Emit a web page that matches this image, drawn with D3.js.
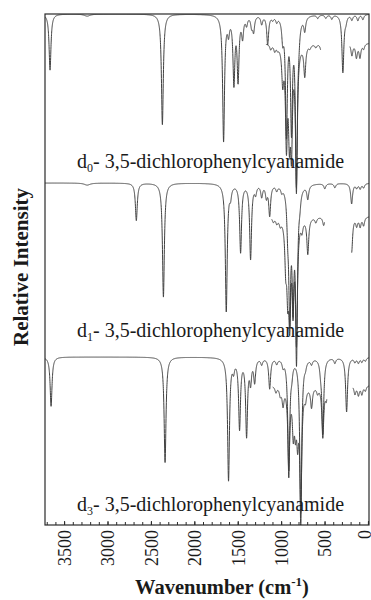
<!DOCTYPE html>
<html>
<head>
<meta charset="utf-8">
<script src="https://cdn.jsdelivr.net/npm/d3@7"></script>
<style>
  html, body { margin: 0; padding: 0; background: #fff; }
  svg { display: block; }
  text { font-family: "Liberation Serif", "DejaVu Serif", serif; fill: #1a1a1a; }
</style>
</head>
<body>
<div id="chart"></div>
<script>
// panel labels (subscript digit, rest of name)
const labelSubs = ['0', '1', '3'];
const labelRest = '- 3,5-dichlorophenylcyanamide';

// x ticks
const majorTicks = [3500, 3000, 2500, 2000, 1500, 1000, 500, 0];
const minorTicks = d3.range(0, 3701, 100);

// peaks: [wavenumber cm-1, relative intensity %, half width (optional)]
const d0Peaks = [
  [3662, 33], [3234, 1.2, 40], [2368, 65], [1663, 74], [1606, 9], [1544, 39], [1496, 37],
  [1444, 12], [1398, 5], [1340, 6], [1317, 9], [1224, 5], [1155, 17], [1097, 2], [1051, 3],
  [982, 12], [939, 68], [881, 64], [824, 100], [797, 7], [728, 8], [578, 2], [485, 2],
  [416, 2.5], [289, 34], [254, 3], [185, 3], [116, 3.5], [58, 3]
];
const d1Peaks = [
  [3234, 1.2, 40], [2668, 22], [2356, 67], [1632, 75], [1583, 6], [1467, 40], [1352, 44],
  [1294, 5], [1224, 7], [1170, 7], [1132, 18], [1051, 3], [993, 3], [924, 18], [901, 71],
  [863, 61], [823, 99], [785, 6], [693, 8], [497, 3], [381, 2.5], [188, 12], [130, 2.5],
  [90, 3], [50, 2.5]
];
const d3Peaks = [
  [3650, 29], [2337, 62], [1606, 72], [1548, 6], [1479, 41], [1398, 45], [1352, 13],
  [1305, 13.5], [1224, 3.5], [1132, 18], [1051, 3], [978, 4], [912, 69], [878, 6],
  [774, 99], [720, 3], [650, 3], [545, 5], [520, 44], [381, 3], [246, 32], [150, 2.5],
  [110, 3], [70, 2.5], [30, 2]
];

// expanded traces drawn inside each panel
const d0InsetPeaks = [
  [1120, 3], [1074, 3.5], [1040, 2], [982, 20], [939, 55], [905, 45], [881, 55], [824, 80],
  [728, 18], [668, 2], [600, 2], [540, 4], [185, 7], [133, 8], [92, 8], [50, 3]
];
const d1InsetPeaks = [
  [1090, 2.5], [1050, 3], [1010, 3.5], [947, 24], [924, 35], [901, 53], [863, 47], [823, 70],
  [760, 6], [693, 21], [600, 3], [510, 5], [188, 21], [130, 5], [90, 5.5], [50, 5]
];
const d3InsetPeaks = [
  [1060, 3.5], [1010, 4.5], [978, 10], [912, 47], [860, 24], [835, 20], [810, 26], [774, 70],
  [720, 6], [650, 12], [580, 3.5], [520, 30], [480, 7], [150, 5], [110, 5.5], [70, 5], [30, 3]
];
const insetRanges = [
  [[1175, 545], [208, -12]],
  [[1109, 500], [188, -12]],
  [[1097, 474], [173, -12]]
];
const insetOffsets = [17, 19.5, 16.5];

const mainPeaks = [d0Peaks, d1Peaks, d3Peaks];
const insetPeaks = [d0InsetPeaks, d1InsetPeaks, d3InsetPeaks];

// layout
const width = 371, height = 600;
const plotL = 45, plotR = 369, plotT = 14, plotB = 525;
const panelBase = [14, 183, 357];
const panelH = 170;

const svg = d3.select('#chart').append('svg')
  .attr('width', width)
  .attr('height', height);

const x = d3.scaleLinear().domain([3720, -12]).range([plotL, plotR]);

svg.append('defs').append('clipPath')
  .attr('id', 'plot')
  .append('rect')
  .attr('x', plotL).attr('y', plotT)
  .attr('width', plotR - plotL).attr('height', plotB - plotT);

// lorentzian broadened absorbance at wavenumber w
function absorb(peaks, w) {
  let s = 0;
  peaks.forEach(p => {
    const g = p[2] || 13;
    s += p[1] * g * g / ((w - p[0]) * (w - p[0]) + g * g);
  });
  return s;
}

const g = svg.append('g').attr('clip-path', 'url(#plot)');

mainPeaks.forEach((peaks, i) => {
  const y = d3.scaleLinear().domain([0, 100]).range([panelBase[i], panelBase[i] + panelH]);
  const line = d3.line()
    .x(d => x(d[0]))
    .y(d => y(d[1]));

  const pts = d3.range(3720, -13, -1).map(w => [w, absorb(peaks, w)]);
  g.append('path')
    .attr('d', line(pts))
    .attr('fill', 'none')
    .attr('stroke', '#404040')
    .attr('stroke-width', 1);

  // expanded part
  insetRanges[i].forEach(r => {
    const ipts = d3.range(r[0], r[1] - 1, -1).map(w => [w, insetOffsets[i] + absorb(insetPeaks[i], w)]);
    g.append('path')
      .attr('d', line(ipts))
      .attr('fill', 'none')
      .attr('stroke', '#404040')
      .attr('stroke-width', 1);
  });

  const t = svg.append('text')
    .attr('x', 77)
    .attr('y', panelBase[i] + 154)
    .attr('font-size', 20);
  t.append('tspan').text('d');
  t.append('tspan').text(labelSubs[i]).attr('font-size', 12).attr('dy', 4);
  t.append('tspan').text(labelRest).attr('dy', -4);
});

// frame
svg.append('rect')
  .attr('x', plotL).attr('y', plotT)
  .attr('width', plotR - plotL).attr('height', plotB - plotT)
  .attr('fill', 'none')
  .attr('stroke', '#2a2a2a')
  .attr('stroke-width', 1.2);

// axis ticks pointing inward
svg.append('g')
  .attr('transform', `translate(0,${plotB})`)
  .call(d3.axisBottom(x).tickValues(minorTicks).tickSize(-3).tickSizeOuter(0).tickFormat(''))
  .call(a => a.select('.domain').remove())
  .selectAll('line').attr('stroke', '#2a2a2a');

const ax = svg.append('g')
  .attr('transform', `translate(0,${plotB})`)
  .call(d3.axisBottom(x).tickValues(majorTicks).tickSize(-4).tickSizeOuter(0)
    .tickPadding(0).tickFormat(d3.format('d')))
  .call(a => a.select('.domain').remove());
ax.selectAll('line').attr('stroke', '#2a2a2a');
ax.selectAll('text')
  .attr('font-size', 18)
  .attr('font-family', '"Liberation Serif", serif')
  .attr('fill', '#1a1a1a')
  .attr('transform', 'rotate(-90)')
  .attr('text-anchor', 'end')
  .attr('x', -5)
  .attr('y', 0)
  // last label sits at the right edge; pull it in a little so it is not clipped
  .attr('dy', d => d === 0 ? '0.15em' : '0.35em');

// axis titles
const xt = svg.append('text')
  .attr('x', 222)
  .attr('y', 594)
  .attr('text-anchor', 'middle')
  .attr('font-size', 20.5)
  .attr('font-weight', 'bold');
xt.append('tspan').text('Wavenumber (cm');
xt.append('tspan').text('-1').attr('font-size', 13).attr('dy', -8);
xt.append('tspan').text(')').attr('dy', 8);

svg.append('text')
  .attr('transform', 'translate(28,267) rotate(-90)')
  .attr('text-anchor', 'middle')
  .attr('font-size', 21)
  .attr('font-weight', 'bold')
  .text('Relative Intensity');
</script>
</body>
</html>
